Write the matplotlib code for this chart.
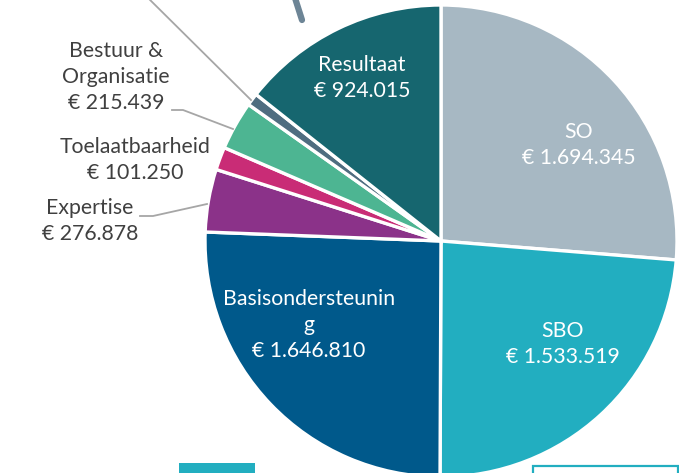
import matplotlib.pyplot as plt
from matplotlib.patches import Rectangle

plt.rcParams['font.family'] = ['Lato', 'DejaVu Sans']

# slices, clockwise from 12 o'clock
labels = ["SO", "SBO", "Basisondersteuning", "Expertise", "Toelaatbaarheid",
          "Bestuur & Organisatie", "Overig", "Resultaat"]
values = [1694345, 1533519, 1646810, 276878, 101250, 215439, 55000, 924015]
colors = ["#a7b8c3", "#22aec0", "#00598b", "#8b3289", "#c92c76",
          "#4db592", "#4f6d80", "#16666f"]

W, H = 679, 473
fig = plt.figure(figsize=(W / 100, H / 100), dpi=100)
ax = fig.add_axes([0, 0, 1, 1])

cx, cy, r = 441, H - 241, 236
ax.pie(values, colors=colors, startangle=90, counterclock=False,
       center=(cx, cy), radius=r, frame=True,
       wedgeprops=dict(edgecolor='white', linewidth=2.4))
ax.set_xlim(0, W)
ax.set_ylim(0, H)
ax.set_aspect('equal')
ax.axis('off')


def y(v):
    return H - v


fs = 15.3
white = dict(color='white', fontsize=fs, ha='center', va='center', linespacing=1.38)
grey = dict(color='#404040', fontsize=fs, ha='center', va='center', linespacing=1.38)

ax.text(362, y(78), "Resultaat\n€ 924.015", **white)
ax.text(579, y(145), "SO\n€ 1.694.345", **white)
ax.text(563, y(344), "SBO\n€ 1.533.519", **white)
ax.text(309, y(325), "Basisondersteunin\ng\n€ 1.646.810", **white)

ax.text(116, y(77), "Bestuur &\nOrganisatie\n€ 215.439", **grey)
ax.text(135, y(160), "Toelaatbaarheid\n€ 101.250", **grey)
ax.text(90, y(221), "Expertise\n€ 276.878", **grey)

# leader lines
lc = '#a6a6a6'
ax.plot([140, 251], [y(-10), y(100)], color=lc, lw=1.3)
ax.plot([172, 183, 233], [y(110), y(110), y(129)], color=lc, lw=1.3)
ax.plot([140, 153, 207], [y(216), y(216), y(204)], color=lc, lw=1.3)

# fragments of other slide elements at the edges
ax.plot([295, 302], [y(-2), y(20)], color='#6d8596', lw=4.5, solid_capstyle='round')
ax.add_patch(Rectangle((179, 0), 76, y(463), color='#22aec0', lw=0))
ax.add_patch(Rectangle((533, -5), 145, y(466) + 5, fill=False,
                       edgecolor='#22aec0', lw=1.6))

fig.savefig("out.png", dpi=100)
